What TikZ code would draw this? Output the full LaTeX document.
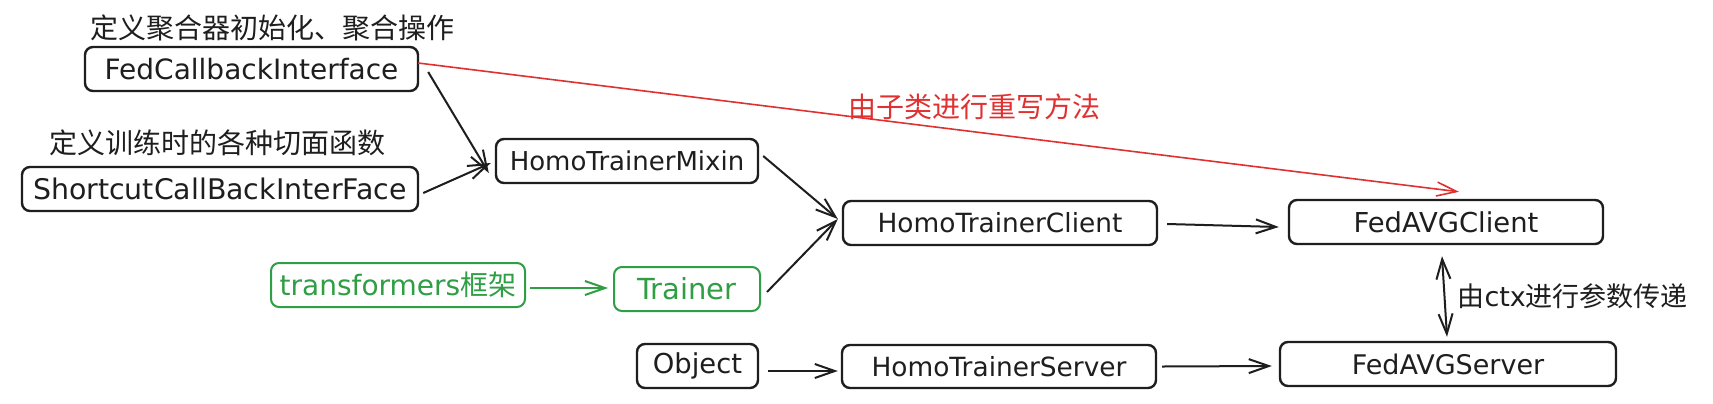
\documentclass[tikz,border=0pt]{standalone}
\usepackage{fontspec}
\setmainfont{DejaVu Sans}
\newfontfamily\cjk{Noto Sans CJK SC}
\usetikzlibrary{arrows.meta,calc}
\definecolor{ink}{HTML}{1E1E1E}
\definecolor{grn}{HTML}{2F9E44}
\definecolor{rd}{HTML}{E03131}
\begin{document}
\begin{tikzpicture}[x=0.5pt,y=-0.5pt,
  box/.style={draw=ink, line width=1.2pt, rounded corners=4pt, inner sep=0pt,
    minimum height=22pt, text=ink, font=\fontsize{13.3}{15}\selectfont},
  fs/.style={font=\fontsize{#1}{15}\selectfont},
  gbox/.style={box, draw=grn, text=grn, line width=1pt},
  lbl/.style={inner sep=0pt, text=ink, font=\fontsize{14}{16}\selectfont\cjk},
  arr/.style={draw=ink, line width=1pt, -{Straight Barb[length=10pt,width=7pt]}},
  garr/.style={arr, draw=grn},
  rarr/.style={arr, draw=rd, line width=0.8pt},
  darr/.style={draw=ink, line width=1pt, {Straight Barb[length=10pt,width=7pt]}-{Straight Barb[length=10pt,width=7pt]}}]
\fill[white] (0,0) rectangle (1713,403);
% labels
\node[lbl] (t1) at (272,28) {定义聚合器初始化、聚合操作};
\node[lbl] (t2) at (217,143) {定义训练时的各种切面函数};
% boxes
\node[box, fs=14, minimum width=166.5pt] (fci) at (251.5,69) {FedCallbackInterface};
\node[box, fs=14.2, minimum width=198pt] (sci) at (220,189) {ShortcutCallBackInterFace};
\node[box, fs=13, minimum width=131pt] (mixin) at (627,161) {HomoTrainerMixin};
\node[box, fs=13.2, minimum width=157pt] (client) at (1000,223) {HomoTrainerClient};
\node[box, fs=13.7, minimum width=157pt] (fedc) at (1446,222) {FedAVGClient};
\node[gbox, fs=14, minimum width=127pt] (trans) at (398,285) {transformers{\cjk 框架}};
\node[gbox, fs=14.5, minimum width=73pt] (trainer) at (687,289) {Trainer};
\node[box, fs=13.7, minimum width=60.5pt] (object) at (697.5,366) {Object};
\node[box, fs=13.2, minimum width=157pt, minimum height=21.5pt] (server) at (999,366.5) {HomoTrainerServer};
\node[box, fs=13.5, minimum width=168pt] (feds) at (1448,364) {FedAVGServer};
% connectors
\draw[arr] ([shift={(9,3)}]fci.east) -- ([shift={(-6,12)}]mixin.west);
\draw[arr] ([shift={(4,4)}]sci.east) -- ([shift={(-4,2)}]mixin.west);
\draw[arr] ([shift={(4,-5)}]mixin.east) -- ([shift={(-4,-4)}]client.west);
\draw[arr] ([shift={(6,3)}]trainer.east) -- ([shift={(-4,-4)}]client.west);
\draw[garr] ([shift={(4,3)}]trans.east) -- ([shift={(-5,-1)}]trainer.west);
\draw[arr] ([shift={(9,5)}]object.east) -- ([shift={(-3,4.5)}]server.west);
\draw[arr] ([shift={(9,1)}]client.east) -- ([shift={(-9,5)}]fedc.west);
\draw[arr] ([shift={(5,0)}]server.east) -- ([shift={(-7,2)}]feds.west);
\draw[rarr] ([shift={(-1,-6)}]fci.east) -- node[pos=0.5, inner sep=0pt, text=rd, font=\fontsize{14}{16}\selectfont\cjk, xshift=18pt, yshift=10.5pt] (rlbl) {由子类进行重写方法} ([shift={(13,-7)}]fedc.north);
\draw[darr] ([shift={(-4,11)}]fedc.south) -- node[right=6pt, inner sep=0pt, text=ink, font=\fontsize{13.5}{16}\selectfont] (clbl) {{\cjk 由}ctx{\cjk 进行参数传递}} ([shift={(-1,-4)}]feds.north);
\end{tikzpicture}
\end{document}
